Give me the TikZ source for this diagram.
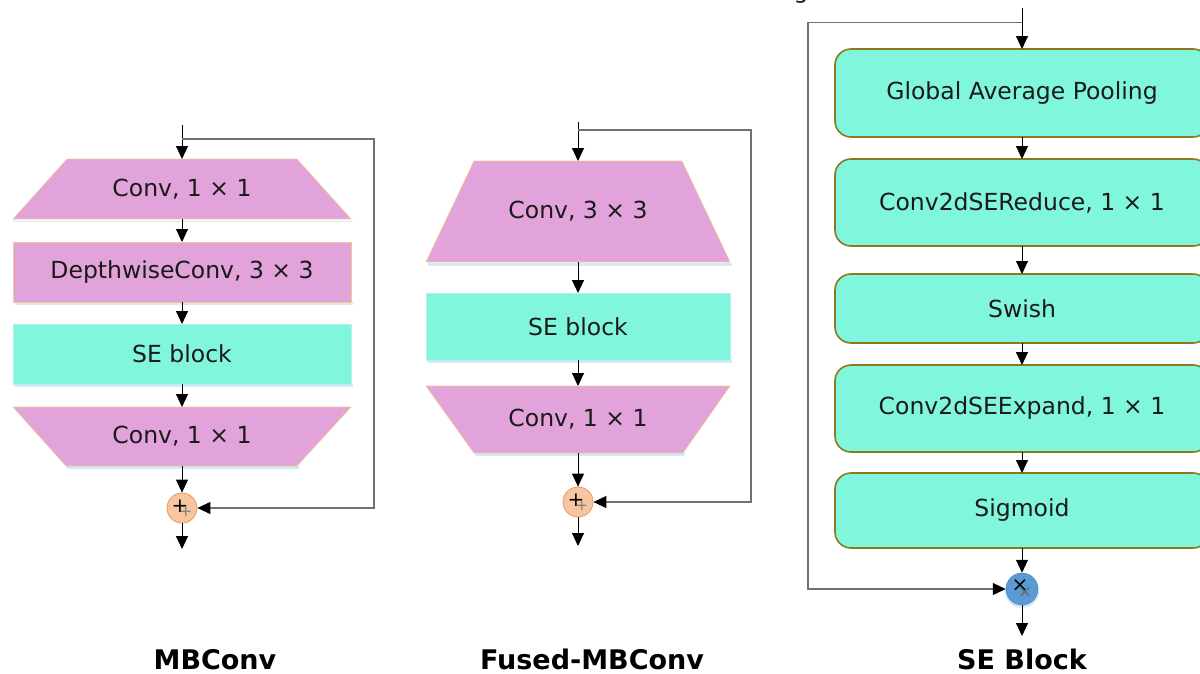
\documentclass[tikz,border=0pt]{standalone}
\usepackage{fontspec}
\setmainfont{DejaVu Sans}
\usetikzlibrary{arrows.meta,calc}
\definecolor{pinkc}{HTML}{E2A3DB}
\definecolor{pinke}{HTML}{F3C98A}
\definecolor{cyanc}{HTML}{80F7DC}
\definecolor{cyane}{HTML}{B8EEF2}
\definecolor{olivec}{HTML}{8A7A1E}
\definecolor{shadc}{HTML}{D2EAF8}
\definecolor{peachc}{HTML}{F7C6A0}
\definecolor{peache}{HTML}{E39A5E}
\definecolor{bluec}{HTML}{5B9BD5}
\definecolor{skipc}{HTML}{707070}
\definecolor{txtc}{HTML}{1A1A1A}
\begin{document}
\begin{tikzpicture}[x=1pt,y=-1pt,
  lbl/.style={font=\fontsize{23.5}{28}\selectfont, text=txtc, inner sep=0pt, outer sep=0pt},
  ttl/.style={font=\fontsize{27}{32}\selectfont\bfseries, text=black, inner sep=0pt, anchor=base},
  pinkshape/.style={fill=pinkc, draw=pinke, line width=0.6pt},
  cyanshape/.style={fill=cyanc, draw=cyane, line width=0.6pt},
  shad/.style={fill=shadc},
  sebox/.style={lbl, draw=olivec, fill=cyanc, line width=1.6pt, rounded corners=16pt, minimum width=374pt},
  arr/.style={-{Triangle[length=13pt,width=12pt]}, draw=black, line width=0.9pt},
  skiparr/.style={-{Triangle[length=13pt,width=12pt,color=black]}, draw=skipc, line width=1.1pt},
  addc/.style={circle, fill=peachc, draw=peache, line width=0.8pt, minimum size=30pt, inner sep=0pt},
  mulc/.style={circle, fill=bluec, draw=bluec!85!black, line width=0.5pt, minimum size=32pt, inner sep=0pt},
  sym/.style={font=\fontsize{20}{20}\selectfont, inner sep=0pt}
]
\useasboundingbox (0,0) rectangle (1200,673);

% cut-off text fragment at top
\node[lbl, anchor=base] (gfrag) at (801,-1.5) {g};

% ================= MBConv =================
\fill[shad] (13,221) rectangle (353,222);
\path[pinkshape] (67,159) -- (297,159) -- (351,219) -- (13,219) -- cycle;
\fill[shad] (15,302) rectangle (353,305);
\path[pinkshape] (13,242) rectangle (351,302);
\fill[shad] (15,384) rectangle (353,387);
\path[cyanshape] (13,324) rectangle (351,384);
\fill[shad] (66,466) -- (300,466) -- (298,469) -- (68,469) -- cycle;
\path[pinkshape] (13,407) -- (351,407) -- (297,466) -- (66,466) -- cycle;

\node[lbl, minimum width=338pt, minimum height=60pt] (m1) at (182,189) {Conv, 1 × 1};
\node[lbl, minimum width=338pt, minimum height=60pt] (m2) at (182,272) {DepthwiseConv, 3 × 3};
\node[lbl, minimum width=338pt, minimum height=60pt] (m3) at (182,354) {SE block};
\node[lbl, minimum width=338pt, minimum height=59pt] (m4) at (182,436.5) {Conv, 1 × 1};
\node[addc] (mp) at (182,508) {};
\node[sym, text=black] (mps) at (180,506) {+};
\node[sym, text=gray, font=\fontsize{15}{15}\selectfont] (mpg) at (186,512) {+};

\coordinate (min) at (182,125);
\coordinate (mbr) at (182,139);
\coordinate (mr) at (374,139);
\coordinate (mout) at (182,549);
\draw[arr] (min) -- (m1.north);
\draw[arr] (m1.south) -- (m2.north);
\draw[arr] (m2.south) -- (m3.north);
\draw[arr] (m3.south) -- (m4.north);
\draw[arr] (m4.south) -- (mp.north);
\draw[arr] (mp.south) -- (mout);
\draw[skiparr] (mbr) -- (mr) |- (mp.east);

\node[ttl] (t1) at (215,669) {MBConv};

% ================= Fused-MBConv =================
\fill[shad] (428,263) rectangle (732,266);
\path[pinkshape] (474,161) -- (682,161) -- (730,262) -- (426,262) -- cycle;
\fill[shad] (428,360) rectangle (732,363);
\path[cyanshape] (426,293) rectangle (730,360);
\fill[shad] (474,453) -- (686,453) -- (684,456) -- (476,456) -- cycle;
\path[pinkshape] (426,386) -- (730,386) -- (683,453) -- (474,453) -- cycle;

\node[lbl, minimum width=304pt, minimum height=101pt] (f1) at (578,211.5) {Conv, 3 × 3};
\node[lbl, minimum width=304pt, minimum height=67pt] (f2) at (578,326.5) {SE block};
\node[lbl, minimum width=304pt, minimum height=67pt] (f3) at (578,419.5) {Conv, 1 × 1};
\node[addc] (fp) at (578,502) {};
\node[sym, text=black] (fps) at (576,500) {+};
\node[sym, text=gray, font=\fontsize{15}{15}\selectfont] (fpg) at (582,506) {+};

\coordinate (fin) at (578,122);
\coordinate (fbr) at (578,130);
\coordinate (fr) at (751,130);
\coordinate (fout) at (578,546);
\draw[arr] (fin) -- (f1.north);
\draw[arr] (f1.south) -- (f2.north);
\draw[arr] (f2.south) -- (f3.north);
\draw[arr] (f3.south) -- (fp.north);
\draw[arr] (fp.south) -- (fout);
\draw[skiparr] (fbr) -- (fr) |- (fp.east);

\node[ttl] (t2) at (592,669) {Fused-MBConv};

% ================= SE Block =================
\node[sebox, minimum height=88pt] (s1) at (1022,93) {Global Average Pooling};
\node[sebox, minimum height=87pt] (s2) at (1022,202.5) {Conv2dSEReduce, 1 × 1};
\node[sebox, minimum height=69pt] (s3) at (1022,308.5) {Swish};
\node[sebox, minimum height=87pt] (s4) at (1022,408.5) {Conv2dSEExpand, 1 × 1};
\node[sebox, minimum height=75pt] (s5) at (1022,510.5) {Sigmoid};
\fill[shadc] (1022,591) circle (17pt);
\node[mulc] (sm) at (1022,589) {};
\node[sym, text=black] (sms) at (1020,586) {×};
\node[sym, text=gray!80!black, font=\fontsize{17}{17}\selectfont] (smg) at (1025,592) {×};

\coordinate (sin) at (1022,8);
\coordinate (sbr) at (1022,22.5);
\coordinate (sl) at (808,22.5);
\coordinate (sout) at (1022,636);
\draw[arr] (sin) -- (s1.north);
\draw[arr] (s1.south) -- (s2.north);
\draw[arr] (s2.south) -- (s3.north);
\draw[arr] (s3.south) -- (s4.north);
\draw[arr] (s4.south) -- (s5.north);
\draw[arr] (s5.south) -- (sm.north);
\draw[arr] (sm.south) -- (sout);
\draw[skiparr] (sbr) -- (sl) |- (sm.west);

\node[ttl] (t3) at (1022,669) {SE Block};
\end{tikzpicture}
\end{document}
